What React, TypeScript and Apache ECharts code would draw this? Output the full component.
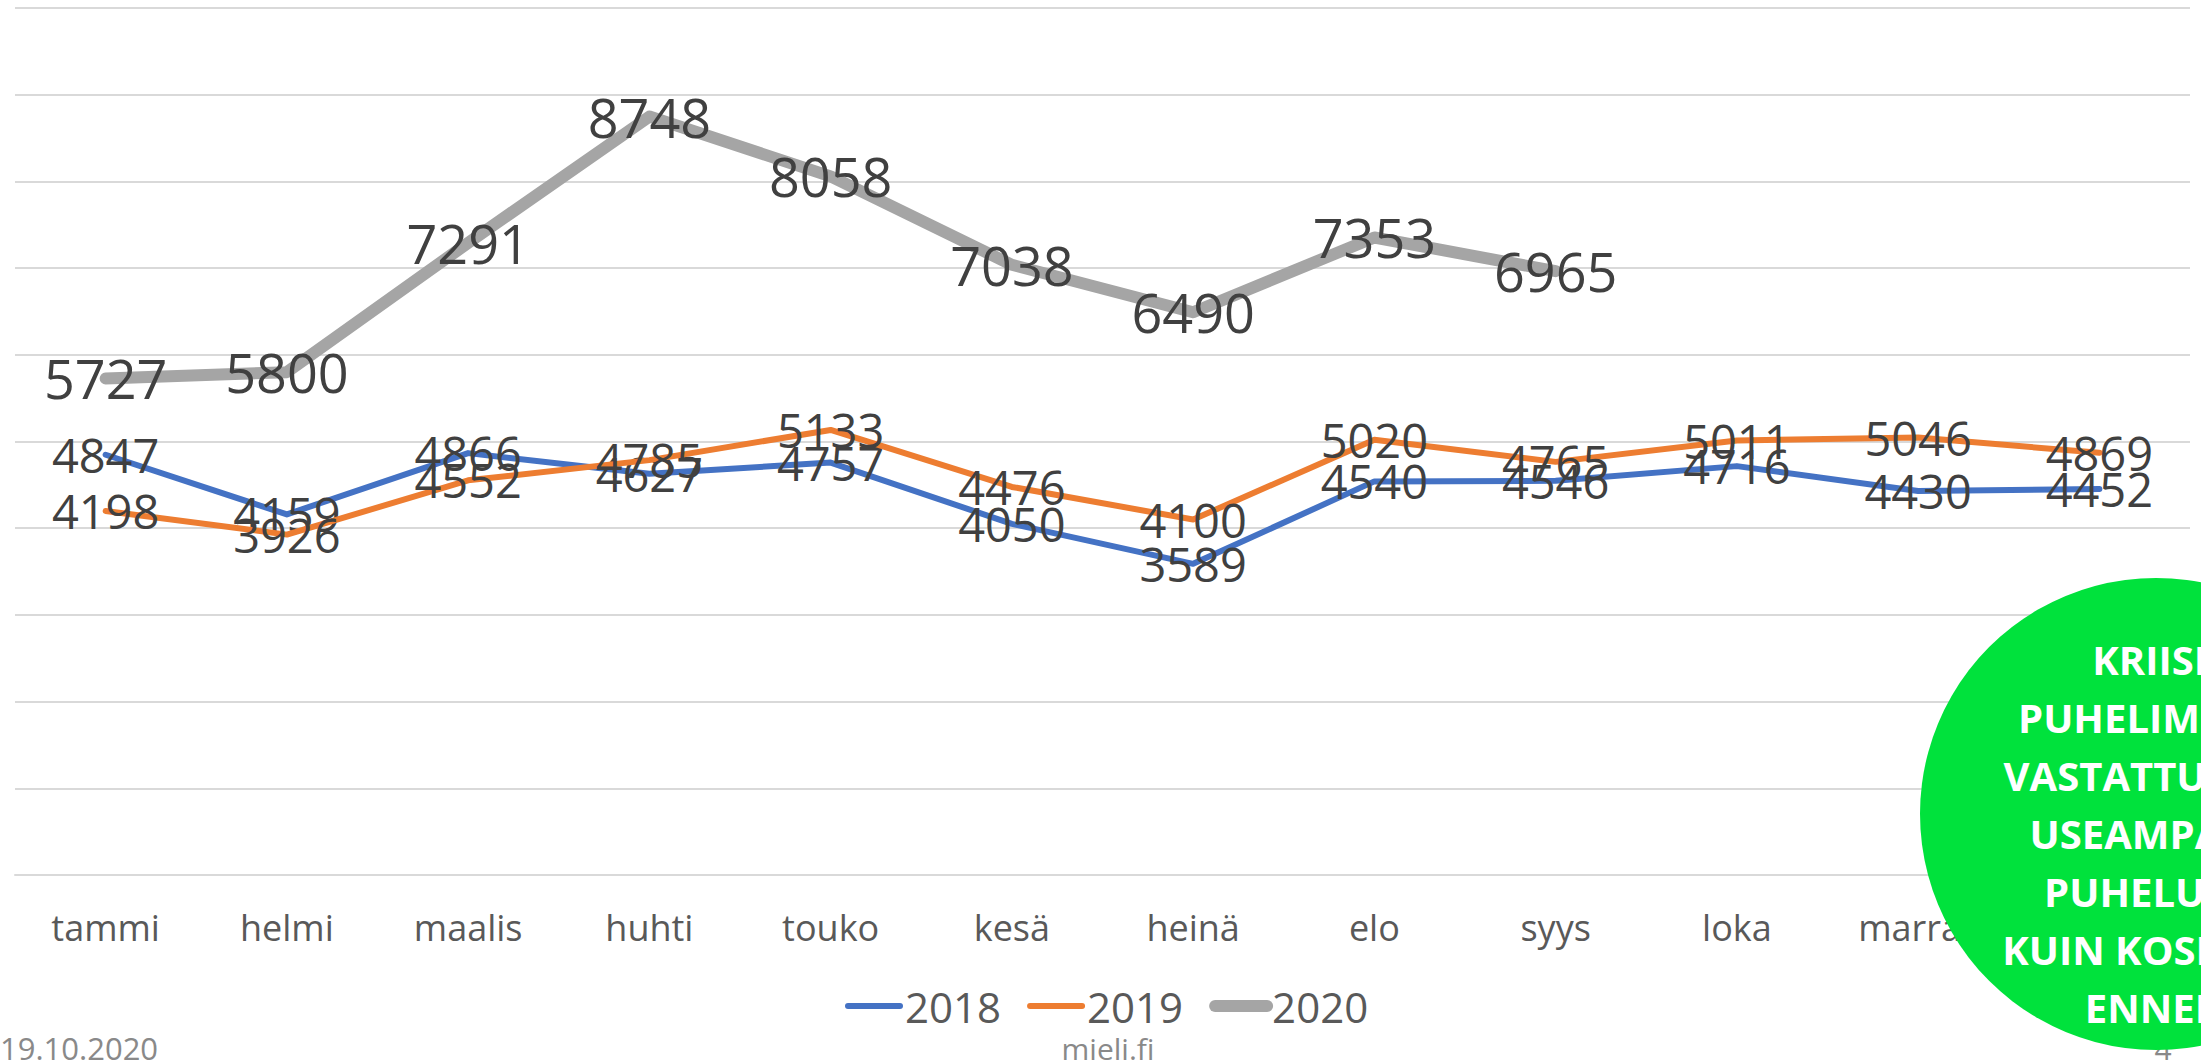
import React, { useEffect, useRef } from "react";
import * as echarts from "echarts";

const months = ["tammi", "helmi", "maalis", "huhti", "touko", "kesä", "heinä", "elo", "syys", "loka", "marras", "joulu"];
const values2018 = [4847, 4159, 4866, 4627, 4757, 4050, 3589, 4540, 4546, 4716, 4430, 4452];
const values2019 = [4198, 3926, 4552, 4785, 5133, 4476, 4100, 5020, 4765, 5011, 5046, 4869];
const values2020 = [5727, 5800, 7291, 8748, 8058, 7038, 6490, 7353, 6965];
const seriesNames = ["2018", "2019", "2020"];
const seriesColors = ["#4472C4", "#ED7D31", "#A5A5A5"];
const calloutLines = ["KRIISI-", "PUHELIMESSA", "VASTATTU 2020", "USEAMPAAN", "PUHELUUN", "KUIN KOSKAAN", "ENNEN"];
const footerDate = "19.10.2020";
const footerSite = "mieli.fi";
const pageNumber = "4";

const FONT = "'Open Sans', 'Noto Sans', sans-serif";

export default function App() {
  const ref = useRef<HTMLDivElement>(null);

  useEffect(() => {
    if (!ref.current) return;
    const chart = echarts.init(ref.current, undefined, { renderer: "svg" });

    const mkSeries = (name: string, data: number[], idx: number, width: number, labelSize: number) => ({
      name,
      type: "line",
      data,
      symbol: "circle",
      symbolSize: 0,
      showSymbol: true,
      itemStyle: { color: seriesColors[idx] },
      lineStyle: { color: seriesColors[idx], width, cap: "round", join: "round" },
      label: {
        show: true,
        position: "inside",
        color: "#404040",
        fontSize: labelSize,
        fontFamily: FONT,
      },
      emphasis: { disabled: true },
      z: 2 + idx,
    });

    const calloutCx = 2156;
    const calloutY0 = 659;
    const calloutStep = 58;

    chart.setOption({
      animation: false,
      textStyle: { fontFamily: FONT },
      grid: { left: 15, right: 11, top: 8, bottom: 186, containLabel: false },
      xAxis: {
        type: "category",
        data: months,
        boundaryGap: true,
        axisLine: { show: true, lineStyle: { color: "#D9D9D9", width: 2 } },
        axisTick: { show: false },
        axisLabel: { color: "#595959", fontSize: 36, margin: 34, fontFamily: FONT, interval: 0 },
      },
      yAxis: {
        type: "value",
        min: 0,
        max: 10000,
        interval: 1000,
        axisLabel: { show: false },
        axisLine: { show: false },
        axisTick: { show: false },
        splitLine: { show: true, lineStyle: { color: "#D9D9D9", width: 2 } },
      },
      legend: {
        data: seriesNames.map((n, i) => ({
          name: n,
          lineStyle: { width: i === 2 ? 12 : 6, cap: "round" },
        })),
        left: 840,
        top: 980,
        itemWidth: 52,
        itemHeight: 14,
        itemGap: 26,
        itemStyle: { opacity: 0 },
        textStyle: { fontSize: 42, color: "#595959", fontFamily: FONT },
        selectedMode: false,
      },
      series: [
        mkSeries(seriesNames[0], values2018, 0, 6, 47),
        mkSeries(seriesNames[1], values2019, 1, 6, 47),
        mkSeries(seriesNames[2], values2020, 2, 12, 54),
      ],
      graphic: [
        {
          type: "text",
          x: 0,
          y: 1048,
          style: { text: footerDate, fontSize: 31, fill: "#898989", fontFamily: FONT, textAlign: "left", textVerticalAlign: "middle" },
          z: 50,
        },
        {
          type: "text",
          x: 1108,
          y: 1048,
          style: { text: footerSite, fontSize: 30, fill: "#898989", fontFamily: FONT, textAlign: "center", textVerticalAlign: "middle" },
          z: 50,
        },
        {
          type: "text",
          x: 2163,
          y: 1048,
          style: { text: pageNumber, fontSize: 30, fill: "#898989", fontFamily: FONT, textAlign: "center", textVerticalAlign: "middle" },
          z: 50,
        },
        {
          type: "circle",
          shape: { cx: calloutCx, cy: 814, r: 236 },
          style: { fill: "#00E23C" },
          z: 100,
        },
        ...calloutLines.map((line, i) => ({
          type: "text",
          x: calloutCx,
          y: calloutY0 + i * calloutStep,
          style: {
            text: line,
            fontSize: 40,
            fontWeight: "bold",
            fill: "#FFFFFF",
            fontFamily: FONT,
            textAlign: "center",
            textVerticalAlign: "middle",
          },
          z: 101,
        })),
      ],
    });

    return () => chart.dispose();
  }, []);

  return (
    <div
      ref={ref}
      style={{ position: "absolute", left: 0, top: 0, width: 2201, height: 1061, background: "#FFFFFF" }}
    />
  );
}
